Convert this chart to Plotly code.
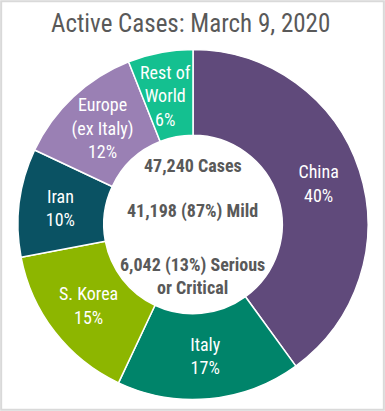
import math
import plotly.graph_objects as go

labels = ["China", "Italy", "S. Korea", "Iran", "Europe (ex Italy)", "Rest of World"]
shares = [40, 17, 15, 10, 12, 6]
slice_text = ["China<br>40%", "Italy<br>17%", "S. Korea<br>15%", "Iran<br>10%",
              "Europe<br>(ex Italy)<br>12%", "Rest of<br>World<br>6%"]
colors = ["#604a7b", "#00846a", "#8db600", "#0a5263", "#9a80b4", "#14c090"]
center_lines = ["47,240 Cases", "41,198 (87%) Mild", "6,042 (13%) Serious<br>or Critical"]
title = "Active Cases: March 9, 2020"

W, H = 385, 411
cx, cy, r = 193, 224.5, 175
HOLE = 0.51
FONT = "Roboto Condensed, Roboto, sans-serif"

# the narrow last slice gets its label as an annotation at its mid-angle (Plotly pushes it outward)
outside_idx = [5]
pie_text = [t if i not in outside_idx else "" for i, t in enumerate(slice_text)]

fig = go.Figure(go.Pie(
    labels=labels, values=shares, text=pie_text,
    textinfo="text", textposition="inside", insidetextorientation="horizontal",
    sort=False, direction="clockwise", rotation=0, hole=HOLE,
    marker=dict(colors=colors, line=dict(color="white", width=1.5)),
    textfont=dict(family=FONT, size=18, color="white"),
    domain=dict(x=[(cx - r) / W, (cx + r) / W], y=[(H - cy - r) / H, (H - cy + r) / H]),
    showlegend=False, hoverinfo="label+percent",
))

annos = []
total = sum(shares)
cum = 0
for i, s in enumerate(shares):
    mid = (cum + s / 2) / total * 2 * math.pi
    cum += s
    if i in outside_idx:
        rr = r * (1 + HOLE) / 2
        px = cx + rr * math.sin(mid) - 3
        py = cy - rr * math.cos(mid) + 1
        annos.append(dict(text=slice_text[i], x=px / W, y=(H - py) / H, xref="paper", yref="paper",
                          xanchor="center", yanchor="middle", showarrow=False,
                          font=dict(family=FONT, size=18, color="white")))

ys = [H - 166, H - 211, H - 276]
for t, yy in zip(center_lines, ys):
    annos.append(dict(text="<b>" + t + "</b>", x=cx / W, y=yy / H, xref="paper", yref="paper",
                      xanchor="center", yanchor="middle", showarrow=False,
                      font=dict(family=FONT, size=18, color="#595959")))
annos.append(dict(text=title, x=190.5 / W, y=(H - 23) / H, xref="paper", yref="paper",
                  xanchor="center", yanchor="middle", showarrow=False,
                  font=dict(family=FONT, size=25, color="#595959")))

fig.update_layout(
    width=W, height=H, margin=dict(l=0, r=0, t=0, b=0),
    paper_bgcolor="white", plot_bgcolor="white",
    annotations=annos,
    uniformtext=dict(minsize=18, mode="show"),
    shapes=[dict(type="rect", xref="paper", yref="paper", x0=0.003, x1=0.997, y0=0.003, y1=0.997,
                 line=dict(color="#d9d9d9", width=2))],
)
fig.write_html("out.html", config={"displayModeBar": False},
               post_script="document.body.style.margin='0';document.body.style.overflow='hidden';")
